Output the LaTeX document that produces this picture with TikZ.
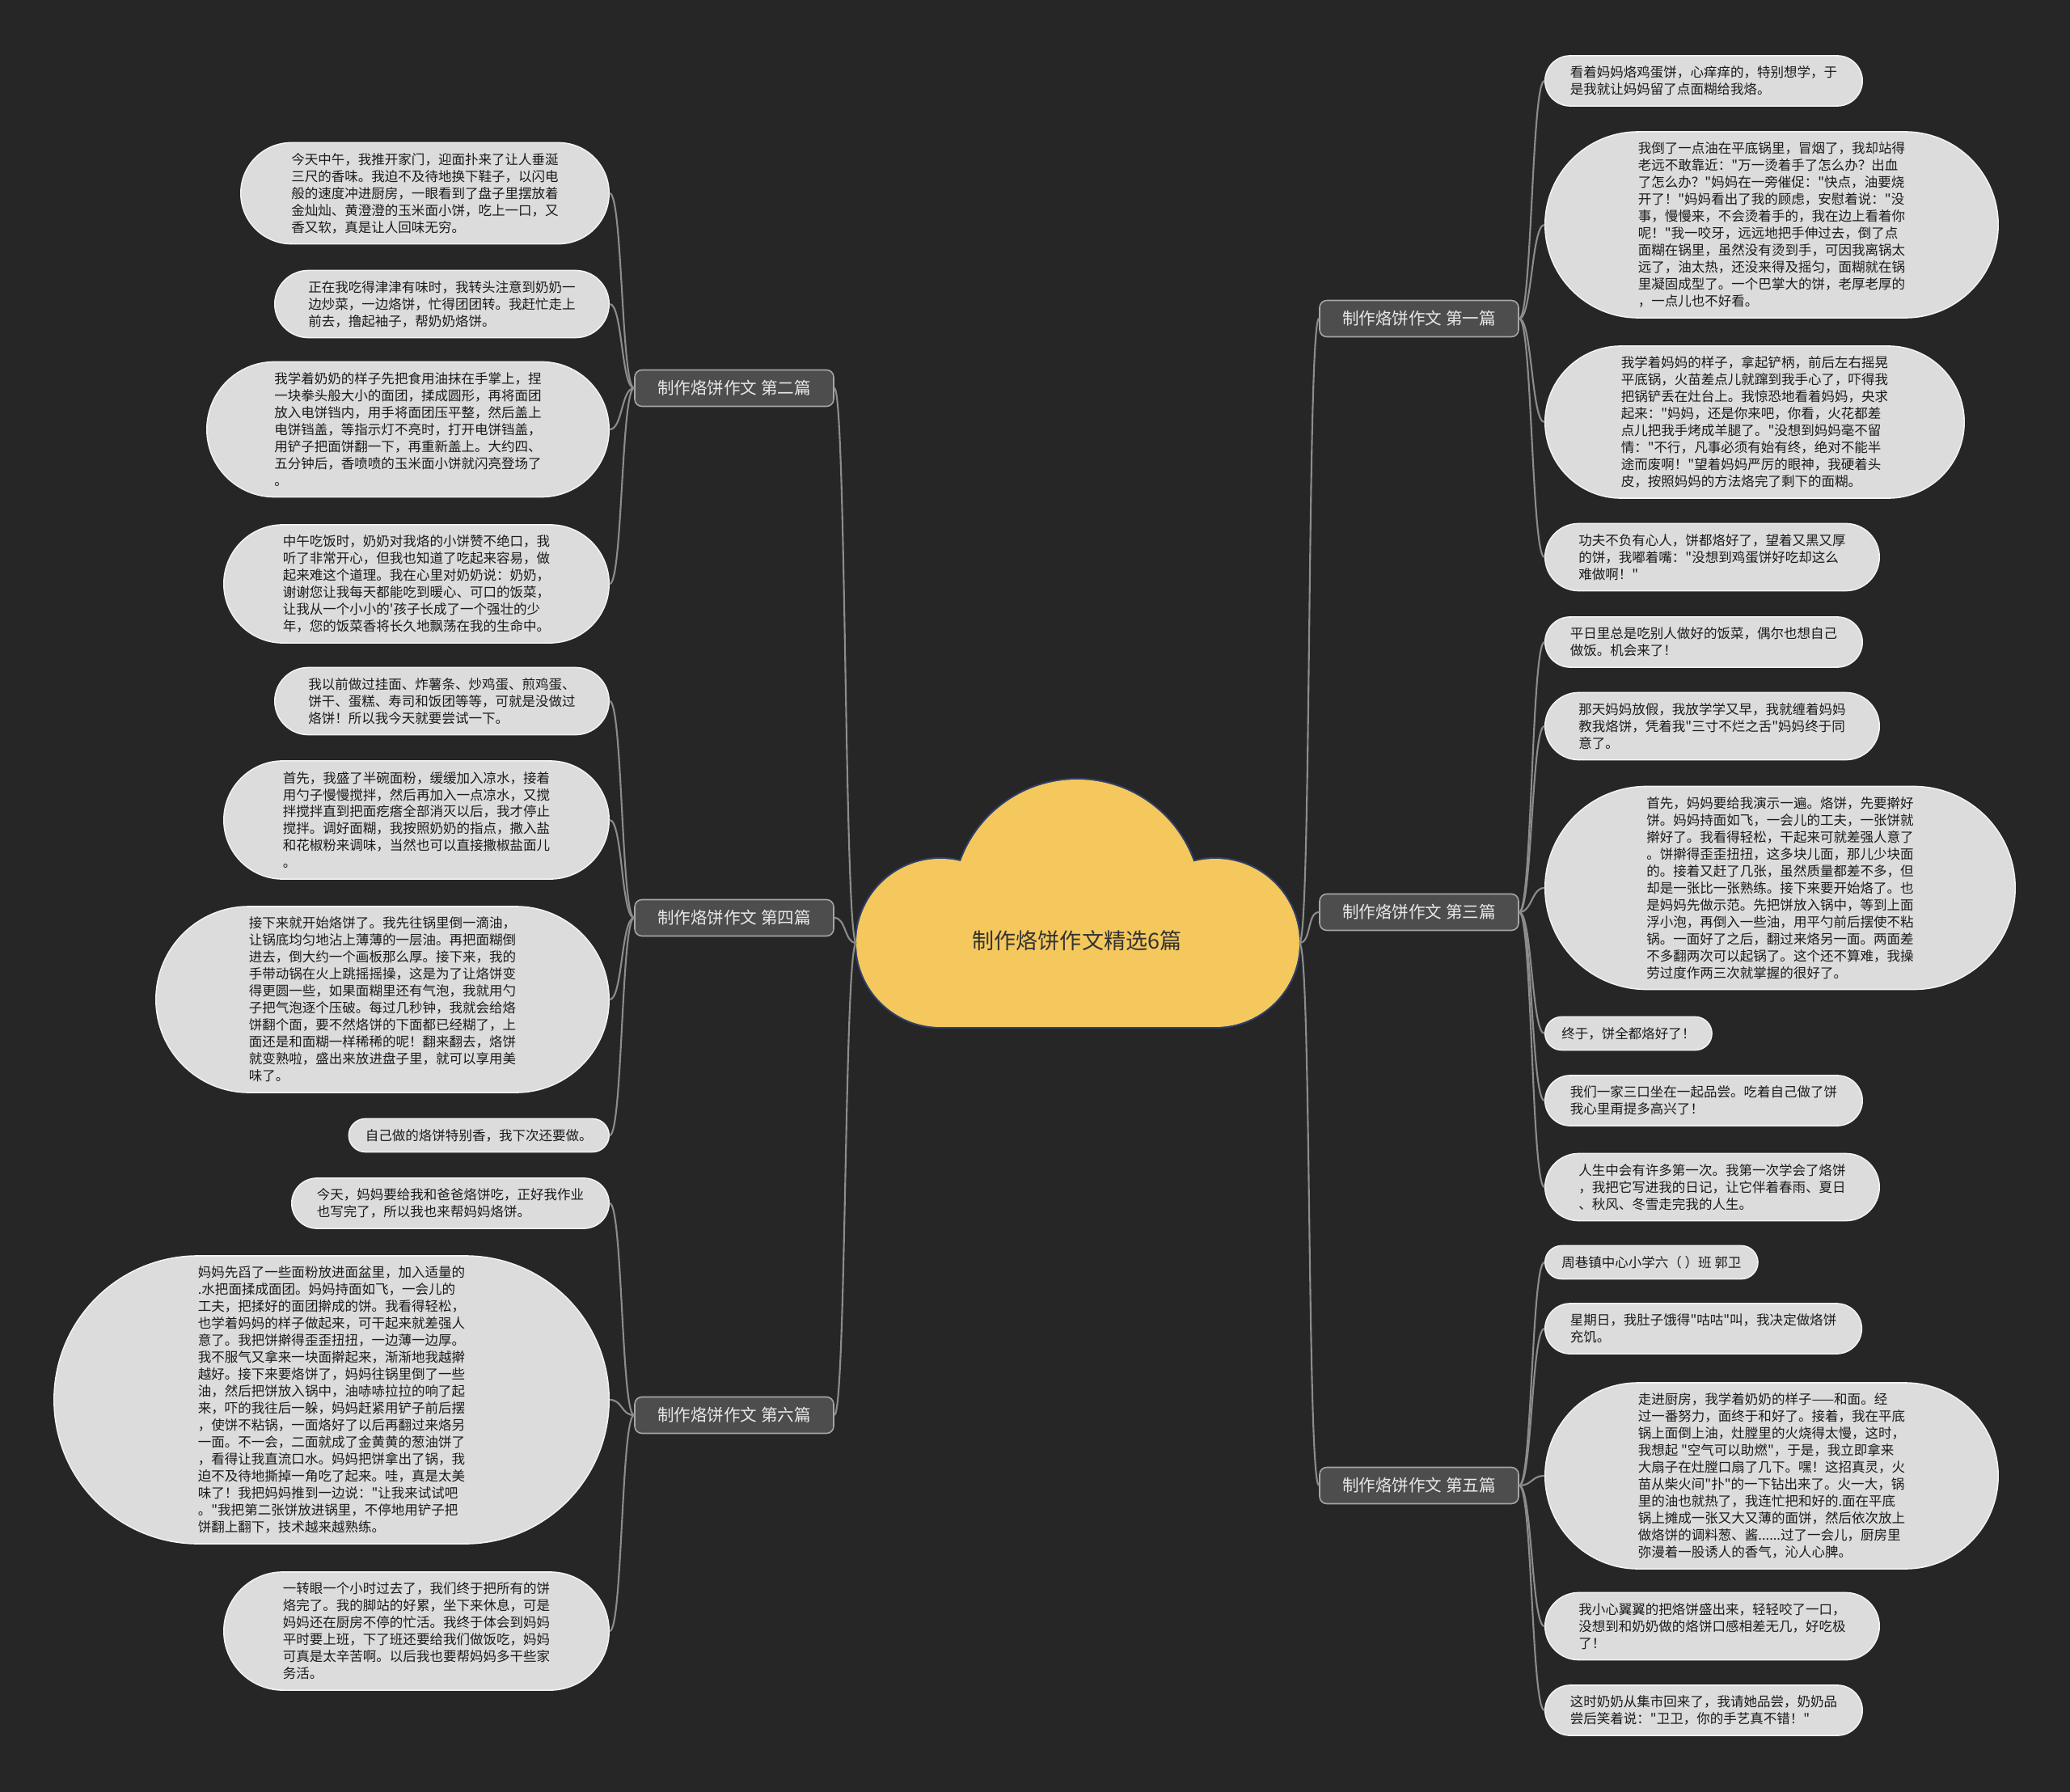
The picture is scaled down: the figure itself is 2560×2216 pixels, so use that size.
\documentclass[tikz,border=0pt]{standalone}
\usepackage{fontspec}
\newfontfamily\cjk{Noto Sans CJK SC}
\usepackage{xcolor}
\definecolor{canvas}{HTML}{262626}
\definecolor{leafbg}{HTML}{DCDCDC}
\definecolor{leafline}{HTML}{F2F2F2}
\definecolor{leaftext}{HTML}{1A1A1A}
\definecolor{branchbg}{HTML}{4D4D4D}
\definecolor{branchline}{HTML}{A6A6A6}
\definecolor{branchtext}{HTML}{E8E8E8}
\definecolor{linkcol}{HTML}{8C8C8C}
\definecolor{cloudbg}{HTML}{F5C85E}
\definecolor{cloudline}{HTML}{2E3F6B}
\definecolor{titletext}{HTML}{333333}

\begin{document}
\begin{tikzpicture}[
  x=0.02cm,y=-0.02cm,
  leaf/.style={rectangle,draw=leafline,fill=leafbg,line width=0.9pt,minimum height={11.95pt*#1+11.45pt},rounded corners={5.975pt*#1+5.725pt},inner xsep={5.975pt*#1+5.725pt},inner ysep=0pt,align=left,text=leaftext,font=\cjk\fontsize{9.4}{11.95}\selectfont},
  leaf/.default=1,
  branch/.style={draw=branchline,fill=branchbg,rounded corners=5pt,line width=0.9pt,minimum width=140pt,minimum height=25.6pt,text=branchtext,font=\cjk\fontsize{11.7}{14}\selectfont},
  link/.style={draw=linkcol,line width=1.2pt}
]
  \useasboundingbox (0,0) rectangle (2560,2216);
  \fill[canvas] (0,0) rectangle (2560,2216);

  % central cloud
  \draw[cloudline,line width=2.4pt] (1163,1166) circle (2.08cm);
  \draw[cloudline,line width=2.4pt] (1503,1166) circle (2.08cm);
  \draw[cloudline,line width=2.4pt] (1332,1117) circle (3.06cm);
  \draw[cloudline,line width=2.4pt] (1163,1100) rectangle (1503,1270);
  \fill[cloudbg] (1163,1166) circle (2.08cm);
  \fill[cloudbg] (1503,1166) circle (2.08cm);
  \fill[cloudbg] (1332,1117) circle (3.06cm);
  \fill[cloudbg] (1163,1100) rectangle (1503,1270);
  \node[text=titletext,font=\cjk\fontsize{15.4}{18}\selectfont] (title) at (1332,1163) {制作烙饼作文精选6篇};
  \coordinate (cw) at (1059,1166);
  \coordinate (ce) at (1607,1166);

  % branches
  \node[branch] (b2) at (908,480) {制作烙饼作文 第二篇};
  \node[branch] (b4) at (908,1135) {制作烙饼作文 第四篇};
  \node[branch] (b6) at (908,1750) {制作烙饼作文 第六篇};
  \node[branch] (b1) at (1755,394) {制作烙饼作文 第一篇};
  \node[branch] (b3) at (1755,1128) {制作烙饼作文 第三篇};
  \node[branch] (b5) at (1755,1837) {制作烙饼作文 第五篇};

  % left leaves
  \node[leaf=5,anchor=east] (b2a) at (754,239) {今天中午，我推开家门，迎面扑来了让人垂涎\\三尺的香味。我迫不及待地换下鞋子，以闪电\\般的速度冲进厨房，一眼看到了盘子里摆放着\\金灿灿、黄澄澄的玉米面小饼，吃上一口，又\\香又软，真是让人回味无穷。};
  \node[leaf=3,anchor=east] (b2b) at (754,376) {正在我吃得津津有味时，我转头注意到奶奶一\\边炒菜，一边烙饼，忙得团团转。我赶忙走上\\前去，撸起袖子，帮奶奶烙饼。};
  \node[leaf=7,anchor=east] (b2c) at (754,531) {我学着奶奶的样子先把食用油抹在手掌上，捏\\一块拳头般大小的面团，揉成圆形，再将面团\\放入电饼铛内，用手将面团压平整，然后盖上\\电饼铛盖，等指示灯不亮时，打开电饼铛盖，\\用铲子把面饼翻一下，再重新盖上。大约四、\\五分钟后，香喷喷的玉米面小饼就闪亮登场了\\。};
  \node[leaf=6,anchor=east] (b2d) at (754,722) {中午吃饭时，奶奶对我烙的小饼赞不绝口，我\\听了非常开心，但我也知道了吃起来容易，做\\起来难这个道理。我在心里对奶奶说：奶奶，\\谢谢您让我每天都能吃到暖心、可口的饭菜，\\让我从一个小小的'孩子长成了一个强壮的少\\年，您的饭菜香将长久地飘荡在我的生命中。};
  \node[leaf=3,anchor=east] (b4a) at (754,867) {我以前做过挂面、炸薯条、炒鸡蛋、煎鸡蛋、\\饼干、蛋糕、寿司和饭团等等，可就是没做过\\烙饼！所以我今天就要尝试一下。};
  \node[leaf=6,anchor=east] (b4b) at (754,1014) {首先，我盛了半碗面粉，缓缓加入凉水，接着\\用勺子慢慢搅拌，然后再加入一点凉水，又搅\\拌搅拌直到把面疙瘩全部消灭以后，我才停止\\搅拌。调好面糊，我按照奶奶的指点，撒入盐\\和花椒粉来调味，当然也可以直接撒椒盐面儿\\。};
  \node[leaf=10,anchor=east] (b4c) at (754,1236) {接下来就开始烙饼了。我先往锅里倒一滴油，\\让锅底均匀地沾上薄薄的一层油。再把面糊倒\\进去，倒大约一个画板那么厚。接下来，我的\\手带动锅在火上跳摇摇操，这是为了让烙饼变\\得更圆一些，如果面糊里还有气泡，我就用勺\\子把气泡逐个压破。每过几秒钟，我就会给烙\\饼翻个面，要不然烙饼的下面都已经糊了，上\\面还是和面糊一样稀稀的呢！翻来翻去，烙饼\\就变熟啦，盛出来放进盘子里，就可以享用美\\味了。};
  \node[leaf=1,anchor=east] (b4d) at (754,1404) {自己做的烙饼特别香，我下次还要做。};
  \node[leaf=2,anchor=east] (b6a) at (754,1488) {今天，妈妈要给我和爸爸烙饼吃，正好我作业\\也写完了，所以我也来帮妈妈烙饼。};
  \node[leaf=16,anchor=east] (b6b) at (754,1731) {妈妈先舀了一些面粉放进面盆里，加入适量的\\.水把面揉成面团。妈妈持面如飞，一会儿的\\工夫，把揉好的面团擀成的饼。我看得轻松，\\也学着妈妈的样子做起来，可干起来就差强人\\意了。我把饼擀得歪歪扭扭，一边薄一边厚。\\我不服气又拿来一块面擀起来，渐渐地我越擀\\越好。接下来要烙饼了，妈妈往锅里倒了一些\\油，然后把饼放入锅中，油哧哧拉拉的响了起\\来，吓的我往后一躲，妈妈赶紧用铲子前后摆\\，使饼不粘锅，一面烙好了以后再翻过来烙另\\一面。不一会，二面就成了金黄黄的葱油饼了\\，看得让我直流口水。妈妈把饼拿出了锅，我\\迫不及待地撕掉一角吃了起来。哇，真是太美\\味了！我把妈妈推到一边说："让我来试试吧\\。"我把第二张饼放进锅里，不停地用铲子把\\饼翻上翻下，技术越来越熟练。};
  \node[leaf=6,anchor=east] (b6c) at (754,2017) {一转眼一个小时过去了，我们终于把所有的饼\\烙完了。我的脚站的好累，坐下来休息，可是\\妈妈还在厨房不停的忙活。我终于体会到妈妈\\平时要上班，下了班还要给我们做饭吃，妈妈\\可真是太辛苦啊。以后我也要帮妈妈多干些家\\务活。};

  % right leaves
  \node[leaf=2,anchor=west] (b1a) at (1910,100) {看着妈妈烙鸡蛋饼，心痒痒的，特别想学，于\\是我就让妈妈留了点面糊给我烙。};
  \node[leaf=10,anchor=west] (b1b) at (1910,278) {我倒了一点油在平底锅里，冒烟了，我却站得\\老远不敢靠近："万一烫着手了怎么办？出血\\了怎么办？"妈妈在一旁催促："快点，油要烧\\开了！"妈妈看出了我的顾虑，安慰着说："没\\事，慢慢来，不会烫着手的，我在边上看着你\\呢！"我一咬牙，远远地把手伸过去，倒了点\\面糊在锅里，虽然没有烫到手，可因我离锅太\\远了，油太热，还没来得及摇匀，面糊就在锅\\里凝固成型了。一个巴掌大的饼，老厚老厚的\\，一点儿也不好看。};
  \node[leaf=8,anchor=west] (b1c) at (1910,522) {我学着妈妈的样子，拿起铲柄，前后左右摇晃\\平底锅，火苗差点儿就蹿到我手心了，吓得我\\把锅铲丢在灶台上。我惊恐地看着妈妈，央求\\起来："妈妈，还是你来吧，你看，火花都差\\点儿把我手烤成羊腿了。"没想到妈妈毫不留\\情："不行，凡事必须有始有终，绝对不能半\\途而废啊！"望着妈妈严厉的眼神，我硬着头\\皮，按照妈妈的方法烙完了剩下的面糊。};
  \node[leaf=3,anchor=west] (b1d) at (1910,689) {功夫不负有心人，饼都烙好了，望着又黑又厚\\的饼，我嘟着嘴："没想到鸡蛋饼好吃却这么\\难做啊！"};
  \node[leaf=2,anchor=west] (b3a) at (1910,794) {平日里总是吃别人做好的饭菜，偶尔也想自己\\做饭。机会来了！};
  \node[leaf=3,anchor=west] (b3b) at (1910,898) {那天妈妈放假，我放学学又早，我就缠着妈妈\\教我烙饼，凭着我"三寸不烂之舌"妈妈终于同\\意了。};
  \node[leaf=11,anchor=west] (b3c) at (1910,1098) {首先，妈妈要给我演示一遍。烙饼，先要擀好\\饼。妈妈持面如飞，一会儿的工夫，一张饼就\\擀好了。我看得轻松，干起来可就差强人意了\\。饼擀得歪歪扭扭，这多块儿面，那儿少块面\\的。接着又赶了几张，虽然质量都差不多，但\\却是一张比一张熟练。接下来要开始烙了。也\\是妈妈先做示范。先把饼放入锅中，等到上面\\浮小泡，再倒入一些油，用平勺前后摆使不粘\\锅。一面好了之后，翻过来烙另一面。两面差\\不多翻两次可以起锅了。这个还不算难，我操\\劳过度作两三次就掌握的很好了。};
  \node[leaf=1,anchor=west] (b3d) at (1910,1278) {终于，饼全都烙好了！};
  \node[leaf=2,anchor=west] (b3e) at (1910,1361) {我们一家三口坐在一起品尝。吃着自己做了饼\\我心里甭提多高兴了！};
  \node[leaf=3,anchor=west] (b3f) at (1910,1468) {人生中会有许多第一次。我第一次学会了烙饼\\，我把它写进我的日记，让它伴着春雨、夏日\\、秋风、冬雪走完我的人生。};
  \node[leaf=1,anchor=west] (b5a) at (1910,1561) {周巷镇中心小学六（ ）班 郭卫};
  \node[leaf=2,anchor=west] (b5b) at (1910,1643) {星期日，我肚子饿得"咕咕"叫，我决定做烙饼\\充饥。};
  \node[leaf=10,anchor=west] (b5c) at (1910,1825) {走进厨房，我学着奶奶的样子——和面。经\\过一番努力，面终于和好了。接着，我在平底\\锅上面倒上油，灶膛里的火烧得太慢，这时，\\我想起 "空气可以助燃"，于是，我立即拿来\\大扇子在灶膛口扇了几下。嘿！这招真灵，火\\苗从柴火间"扑"的一下钻出来了。火一大，锅\\里的油也就热了，我连忙把和好的.面在平底\\锅上摊成一张又大又薄的面饼，然后依次放上\\做烙饼的调料葱、酱......过了一会儿，厨房里\\弥漫着一股诱人的香气，沁人心脾。};
  \node[leaf=3,anchor=west] (b5d) at (1910,2011) {我小心翼翼的把烙饼盛出来，轻轻咬了一口，\\没想到和奶奶做的烙饼口感相差无几，好吃极\\了！};
  \node[leaf=2,anchor=west] (b5e) at (1910,2115) {这时奶奶从集市回来了，我请她品尝，奶奶品\\尝后笑着说："卫卫，你的手艺真不错！"};

  % connectors
  \foreach \b in {b2,b4,b6}
    \draw[link] (cw) .. controls +(-15,0) and +(15,0) .. (\b.east);
  \foreach \b in {b1,b3,b5}
    \draw[link] (ce) .. controls +(15,0) and +(-15,0) .. (\b.west);
  \foreach \l in {b2a,b2b,b2c,b2d}
    \draw[link] (b2.west) .. controls +(-16,0) and +(16,0) .. (\l.east);
  \foreach \l in {b4a,b4b,b4c,b4d}
    \draw[link] (b4.west) .. controls +(-16,0) and +(16,0) .. (\l.east);
  \foreach \l in {b6a,b6b,b6c}
    \draw[link] (b6.west) .. controls +(-16,0) and +(16,0) .. (\l.east);
  \foreach \l in {b1a,b1b,b1c,b1d}
    \draw[link] (b1.east) .. controls +(16,0) and +(-16,0) .. (\l.west);
  \foreach \l in {b3a,b3b,b3c,b3d,b3e,b3f}
    \draw[link] (b3.east) .. controls +(16,0) and +(-16,0) .. (\l.west);
  \foreach \l in {b5a,b5b,b5c,b5d,b5e}
    \draw[link] (b5.east) .. controls +(16,0) and +(-16,0) .. (\l.west);
\end{tikzpicture}
\end{document}
